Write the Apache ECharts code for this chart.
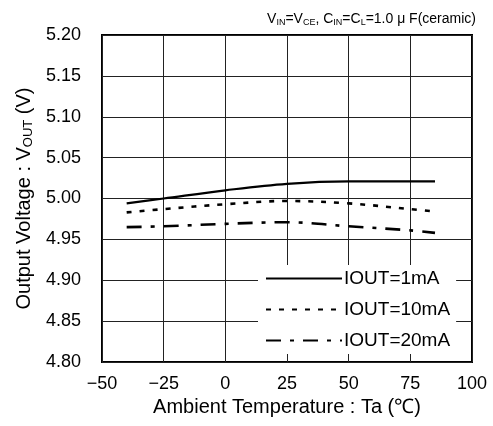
<!DOCTYPE html>
<html><head><meta charset="utf-8">
<script src="https://cdn.jsdelivr.net/npm/echarts@6/dist/echarts.min.js"></script>
<style>html,body{margin:0;padding:0;background:#fff}#c{width:493px;height:426px}</style>
</head><body><div id="c"></div>
<script>
const temps = [-40, -25, 0, 25, 50, 75, 85];
const iout1 = [4.994, 5.000, 5.010, 5.018, 5.021, 5.021, 5.021];
const iout10 = [4.983, 4.987, 4.993, 4.997, 4.994, 4.987, 4.984];
const iout20 = [4.965, 4.966, 4.969, 4.971, 4.966, 4.961, 4.958];
const seriesNames = ['IOUT=1mA', 'IOUT=10mA', 'IOUT=20mA'];
const xTicks = [-50, -25, 0, 25, 50, 75, 100];
const yTicks = [4.80, 4.85, 4.90, 4.95, 5.00, 5.05, 5.10, 5.15, 5.20];

const FONT = '"Liberation Sans", Arial, sans-serif';
const chart = echarts.init(document.getElementById('c'), null, {renderer: 'canvas'});
const pairs = a => temps.map((t, i) => [t, a[i]]);
chart.setOption({
  animation: false,
  backgroundColor: '#fff',
  textStyle: {fontFamily: FONT, color: '#000'},
  title: {
    text: '{n|V}{s|IN}{n|=V}{s|CE}{n|, C}{s|IN}{n|=C}{s|L}{n|=1.0 μ F(ceramic)}',
    right: 12, top: 7,
    textStyle: {fontWeight: 'normal', rich: {
      n: {fontSize: 14, fontFamily: FONT, color: '#000', fontWeight: 'normal'},
      s: {fontSize: 9, fontFamily: FONT, color: '#000', fontWeight: 'normal', verticalAlign: 'bottom', padding: [6, 0, 0, 0]}
    }}
  },
  grid: {left: 102, right: 21, top: 35, bottom: 64, show: true, borderColor: '#000', borderWidth: 2, backgroundColor: 'transparent'},
  legend: {
    orient: 'vertical', left: 258, top: 265, width: 205,
    backgroundColor: '#fff', padding: [4, 6, 4, 7], itemGap: 12,
    itemWidth: 76, itemHeight: 14,
    itemStyle: {opacity: 0},
    textStyle: {fontSize: 19, fontFamily: FONT, color: '#000', padding: [0, 0, 0, -3]},
    data: seriesNames
  },
  xAxis: {
    type: 'value', min: xTicks[0], max: xTicks[xTicks.length - 1], interval: 25,
    name: 'Ambient Temperature : Ta (℃)', nameLocation: 'middle', nameGap: 34,
    nameTextStyle: {fontSize: 20, fontFamily: FONT, color: '#000'},
    axisLine: {show: false}, axisTick: {show: false},
    axisLabel: {fontSize: 18, color: '#000', margin: 13, formatter: v => String(v).replace('-', '−')},
    splitLine: {show: true, lineStyle: {color: '#222', width: 1}}
  },
  yAxis: {
    type: 'value', min: yTicks[0], max: yTicks[yTicks.length - 1], interval: 0.05,
    name: '{n|Output Voltage : V}{s|OUT}{n| (V)}', nameLocation: 'middle', nameGap: 67, nameRotate: 90,
    nameTextStyle: {rich: {
      n: {fontSize: 20, fontFamily: FONT, color: '#000'},
      s: {fontSize: 13, fontFamily: FONT, color: '#000', verticalAlign: 'bottom', padding: [9, 0, 0, 0]}
    }},
    axisLine: {show: false}, axisTick: {show: false},
    axisLabel: {fontSize: 18, color: '#000', margin: 21, formatter: v => v.toFixed(2)},
    splitLine: {show: true, lineStyle: {color: '#222', width: 1}}
  },
  series: [
    {name: seriesNames[0], type: 'line', data: pairs(iout1), smooth: 0.35, showSymbol: false, symbol: 'none',
      lineStyle: {color: '#000', width: 2.2, type: 'solid'}, itemStyle: {color: '#000'}},
    {name: seriesNames[1], type: 'line', data: pairs(iout10), smooth: 0.35, showSymbol: false, symbol: 'none',
      lineStyle: {color: '#000', width: 2.6, type: [5, 8]}, itemStyle: {color: '#000'}},
    {name: seriesNames[2], type: 'line', data: pairs(iout20), smooth: 0.35, showSymbol: false, symbol: 'none',
      lineStyle: {color: '#000', width: 2.6, type: [15, 9, 4, 9]}, itemStyle: {color: '#000'}}
  ]
});
</script></body></html>
